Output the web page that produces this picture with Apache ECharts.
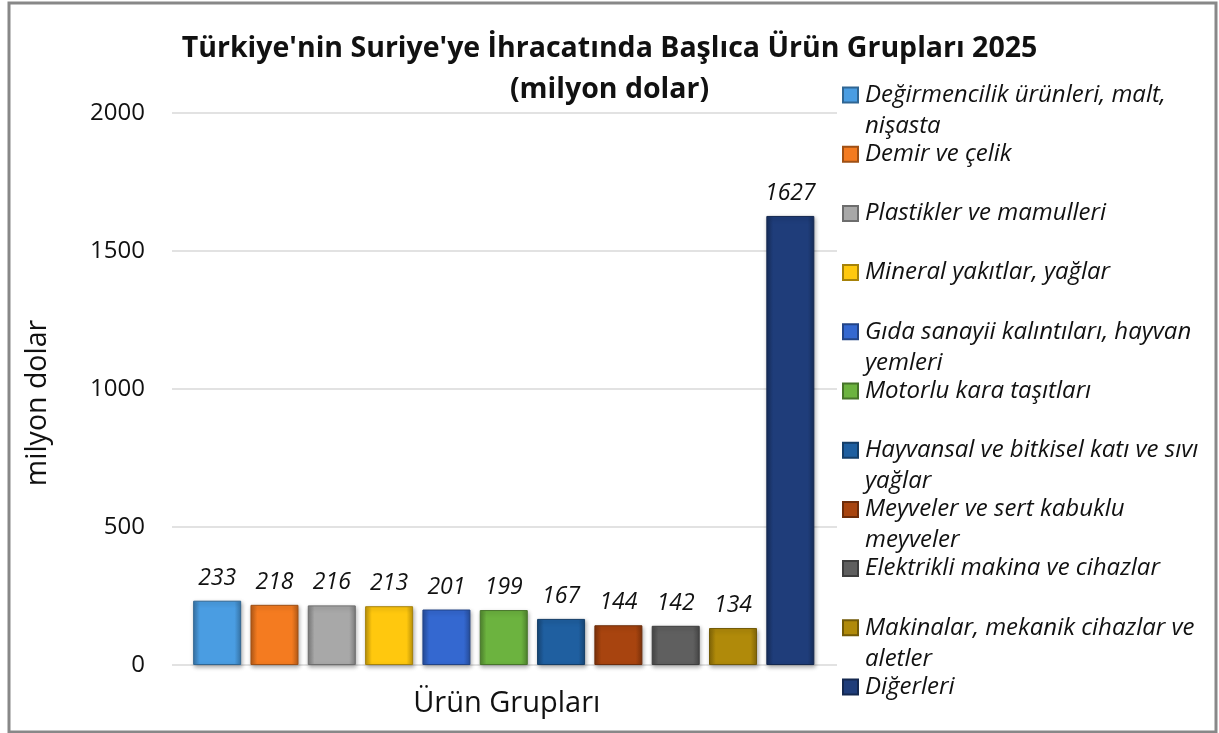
<!DOCTYPE html>
<html><head><meta charset="utf-8">
<script src="https://cdn.jsdelivr.net/npm/echarts@6/dist/echarts.min.js"></script>
<style>html,body{margin:0;padding:0;background:#fff}#c{width:1219px;height:733px}</style>
</head><body><div id="c"></div>
<script>
const categories = ['Değirmencilik ürünleri, malt, nişasta', 'Demir ve çelik', 'Plastikler ve mamulleri', 'Mineral yakıtlar, yağlar', 'Gıda sanayii kalıntıları, hayvan yemleri', 'Motorlu kara taşıtları', 'Hayvansal ve bitkisel katı ve sıvı yağlar', 'Meyveler ve sert kabuklu meyveler', 'Elektrikli makina ve cihazlar', 'Makinalar, mekanik cihazlar ve aletler', 'Diğerleri'];
const values = [233, 218, 216, 213, 201, 199, 167, 144, 142, 134, 1627];
const legendLabels = ['Değirmencilik ürünleri, malt,\nnişasta', 'Demir ve çelik', 'Plastikler ve mamulleri', 'Mineral yakıtlar, yağlar', 'Gıda sanayii kalıntıları, hayvan\nyemleri', 'Motorlu kara taşıtları', 'Hayvansal ve bitkisel katı ve sıvı\nyağlar', 'Meyveler ve sert kabuklu\nmeyveler', 'Elektrikli makina ve cihazlar', 'Makinalar, mekanik cihazlar ve\naletler', 'Diğerleri'];
const yTicks = { min: 0, max: 2000, interval: 500 };
const titleText = "Türkiye'nin Suriye'ye İhracatında Başlıca Ürün Grupları 2025\n(milyon dolar)";
const yName = 'milyon dolar';
const xName = 'Ürün Grupları';
const colors = ['#4a9de2', '#f47b20', '#a8a8a8', '#ffc80e', '#3468d0', '#6cb33f', '#1f5fa0', '#a8440f', '#5f5f5f', '#b08a0a', '#1f3d7a'];

function shade(hex, f) {
  const n = parseInt(hex.slice(1), 16);
  const r = (n >> 16) & 255, g = (n >> 8) & 255, b = n & 255;
  const c = v => Math.max(0, Math.min(255, Math.round(f < 1 ? v * f : v + (255 - v) * (f - 1))));
  return 'rgb(' + c(r) + ',' + c(g) + ',' + c(b) + ')';
}
const FONT = 'Open Sans';
const chart = echarts.init(document.getElementById('c'), null, { renderer: 'canvas' });

const series = categories.map((name, i) => ({
  name: name, type: 'bar', xAxisIndex: 1, yAxisIndex: 1,
  barWidth: 48, barGap: '-100%',
  data: [[name, values[i]]],
  itemStyle: {
    color: new echarts.graphic.LinearGradient(0, 0, 1, 0, [
      { offset: 0, color: shade(colors[i], 0.75) },
      { offset: 0.14, color: colors[i] },
      { offset: 0.86, color: colors[i] },
      { offset: 1, color: shade(colors[i], 0.75) }
    ]),
    borderColor: shade(colors[i], 0.65), borderWidth: 1,
    shadowColor: 'rgba(0,0,0,0.3)', shadowBlur: 4, shadowOffsetX: 1, shadowOffsetY: 2
  },
  label: {
    show: true, position: 'top', distance: 11,
    formatter: p => p.value[1],
    fontFamily: FONT, fontStyle: 'italic', fontSize: 23, color: '#111'
  }
}));

const legends = categories.map((name, i) => {
  const two = legendLabels[i].indexOf('\n') >= 0;
  return {
    data: [name], orient: 'vertical', left: 842,
    top: 95 + i * 59.2 - (two ? 46.5 : 15.5),
    itemWidth: 15, itemHeight: 15, icon: 'rect', padding: 0, selectedMode: false,
    formatter: () => (two ? '\n' : '') + legendLabels[i],
    textStyle: { fontFamily: FONT, fontStyle: 'italic', fontSize: 24, color: '#111', lineHeight: 31, padding: [0, 0, 0, 2] }
  };
});

chart.setOption({
  backgroundColor: '#fff',
  animation: false,
  title: {
    text: titleText, left: 'center', top: 28, padding: 0,
    textStyle: { fontFamily: FONT, fontWeight: 'bold', fontSize: 28.5, lineHeight: 41, color: '#111' }
  },
  legend: legends,
  grid: [
    { left: 172, right: 382, top: 113, bottom: 68 },
    { left: 188.5, right: 400, top: 113, bottom: 68 }
  ],
  xAxis: [
    { type: 'category', gridIndex: 0, data: categories, show: false },
    {
      type: 'category', gridIndex: 1, data: categories,
      axisLine: { show: false }, axisTick: { show: false }, axisLabel: { show: false },
      name: xName, nameLocation: 'middle', nameGap: 24,
      nameTextStyle: { fontFamily: FONT, fontSize: 29, color: '#111', padding: [0, 0, 0, 6] }
    }
  ],
  yAxis: [
    {
      type: 'value', gridIndex: 0, min: yTicks.min, max: yTicks.max, interval: yTicks.interval,
      axisLine: { show: false }, axisTick: { show: false },
      axisLabel: { fontFamily: FONT, fontSize: 24, color: '#111', margin: 27, formatter: v => String(v) },
      splitLine: { lineStyle: { color: '#d9d9d9', width: 1.5 } },
      name: yName, nameLocation: 'middle', nameGap: 120,
      nameTextStyle: { fontFamily: FONT, fontSize: 28.5, color: '#111', padding: [0, 28, 0, 0] }
    },
    { type: 'value', gridIndex: 1, min: yTicks.min, max: yTicks.max, interval: yTicks.interval, show: false }
  ],
  series: series,
  graphic: [{
    type: 'rect', shape: { x: 9, y: 3, width: 1207, height: 729 },
    style: { fill: 'none', stroke: '#888', lineWidth: 3 }, silent: true, z: 100
  }]
});
</script></body></html>
